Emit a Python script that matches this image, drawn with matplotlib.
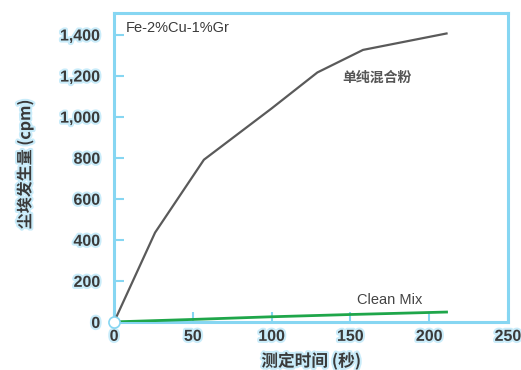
import matplotlib
matplotlib.use("Agg")
import matplotlib.pyplot as plt
import matplotlib.patheffects as pe
import matplotlib.ticker as mticker

plt.rcParams["font.family"] = ["Liberation Sans", "Noto Sans CJK SC", "DejaVu Sans"]

# ---------------------------------------------------------------------------
# Data
# ---------------------------------------------------------------------------
plain_time = [0, 26, 57, 100, 129, 158, 211]
plain_dust = [0, 435, 790, 1040, 1215, 1325, 1405]

clean_time = [0, 50, 100, 150, 211]
clean_dust = [0, 12, 25, 36, 48]

x_ticks = [0, 50, 100, 150, 200, 250]
y_ticks = [0, 200, 400, 600, 800, 1000, 1200, 1400]

BLUE = "#86d6f2"
TEXT = "#3a3a3a"
halo = [pe.withStroke(linewidth=3, foreground="#c9ecfa")]
CJK = ["Noto Sans CJK SC", "DejaVu Sans"]

fig = plt.figure(figsize=(5.21, 3.70), dpi=100)
ax = fig.add_axes([0.219, 0.130, 0.756, 0.835])

ax.plot(plain_time, plain_dust, color="#5a5a5a", linewidth=1.6, zorder=3)
ax.plot(clean_time, clean_dust, color="#1fa64a", linewidth=2.0, zorder=4)
ax.plot([0], [0], marker="o", markersize=8, markerfacecolor="white",
        markeredgecolor=BLUE, markeredgewidth=1.2, zorder=5, clip_on=False)

ax.set_xlim(0, 250)
ax.set_ylim(0, 1505)
ax.set_xticks(x_ticks)
ax.set_yticks(y_ticks)
ax.yaxis.set_major_formatter(mticker.FuncFormatter(lambda v, p: f"{int(v):,}"))

for s in ax.spines.values():
    s.set_color(BLUE)
    s.set_linewidth(2.2)

ax.tick_params(direction="in", length=7, width=1.5, color=BLUE,
               labelsize=11.5, labelcolor=TEXT)
ax.tick_params(axis="y", pad=10)
ax.tick_params(axis="x", pad=5)
for lab in ax.get_xticklabels() + ax.get_yticklabels():
    lab.set_fontweight("bold")
    lab.set_path_effects(halo)

ax.text(0.03, 0.975, "Fe-2%Cu-1%Gr", transform=ax.transAxes, ha="left", va="top",
        fontsize=10.5, color=TEXT)
ax.text(167, 1190, "单纯混合粉", ha="center", va="center", fontsize=10,
        fontweight="bold", color="#555555", family=CJK)
ax.text(175, 107, "Clean Mix", ha="center", va="center", fontsize=10.5,
        color="#444444")

ax.set_xlabel("测定时间 (秒)", fontsize=12, fontweight="bold", color=TEXT,
              family=CJK, labelpad=6, path_effects=halo)
ax.set_ylabel("尘埃发生量 (cpm)", fontsize=11.5, fontweight="bold", color=TEXT,
              family=CJK, path_effects=halo)
ax.yaxis.set_label_coords(-0.205, 0.51)

fig.savefig("out.png", dpi=100)
